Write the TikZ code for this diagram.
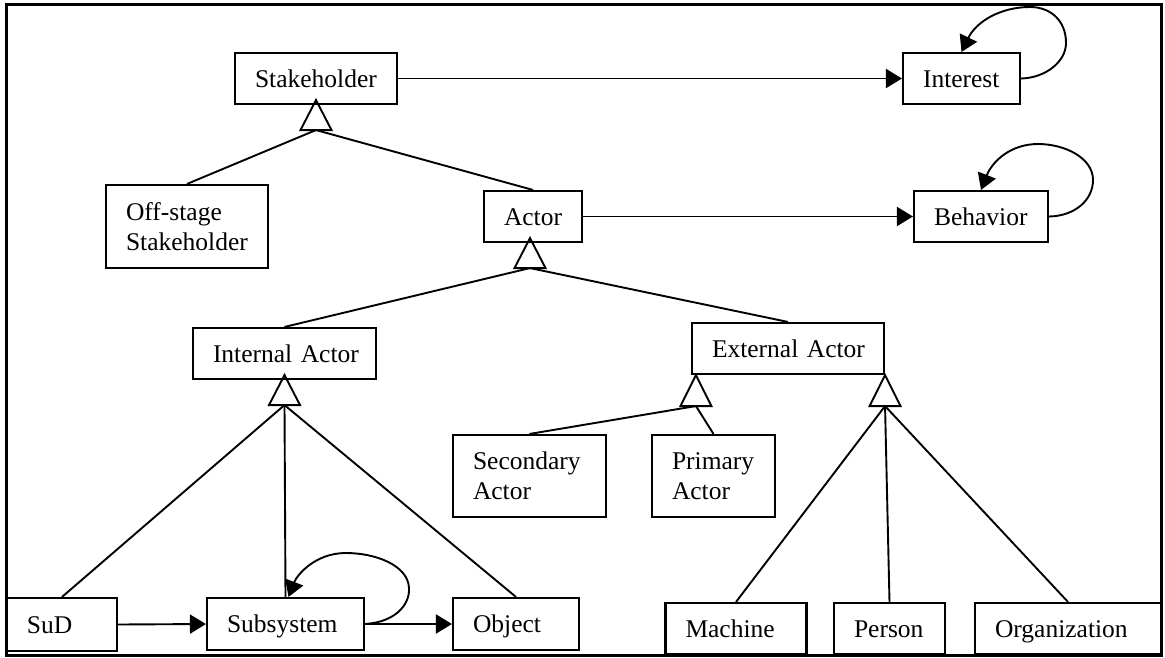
\documentclass[tikz,border=0pt]{standalone}
\usepackage{fontspec}
\setmainfont{Liberation Serif}
\usetikzlibrary{arrows.meta,calc}
\begin{document}
\begin{tikzpicture}[x=1pt,y=-1pt,
  boxbase/.style={draw, line width=2.1pt, align=left, inner xsep=20pt, inner ysep=0pt,
    font=\fontsize{25.5pt}{30pt}\selectfont},
  box/.style={boxbase, text height=17.3pt, text depth=0pt},
  conn/.style={line width=1.9pt},
  arr/.style={conn, -{Triangle[length=16pt,width=19pt]}},
  gen/.style={line width=1.9pt, line join=miter}]
\useasboundingbox (0,0) rectangle (1165,657);
\draw[line width=3pt] (6,4) rectangle (1161,655);

% nodes
\node[box, text width=122pt, minimum height=51pt] (stake) at (316,78.5) {\mbox{Stakeholder}};
\node[box, text width=77pt, minimum height=51pt] (interest) at (961.5,78.5) {\mbox{Interest}};
\node[boxbase, text width=122pt, minimum height=83pt] (offstage) at (187,226.5) {\mbox{Off-stage}\\\mbox{Stakeholder}};
\node[box, text width=58pt, minimum height=51pt] (actor) at (533,216.5) {\mbox{Actor}};
\node[box, text width=94pt, minimum height=51pt] (behavior) at (981,216.5) {\mbox{Behavior}};
\node[box, text width=143pt, minimum height=51pt] (internal) at (284.5,353.5) {\mbox{Internal Actor}};
\node[box, text width=152pt, minimum height=51pt] (external) at (788,348.5) {\mbox{External Actor}};
\node[boxbase, text width=113pt, minimum height=82pt] (secondary) at (529.5,476) {\mbox{Secondary}\\\mbox{Actor}};
\node[boxbase, text width=83pt, minimum height=82pt] (primary) at (713.5,476) {\mbox{Primary}\\\mbox{Actor}};
\node[box, text width=70pt, minimum height=53pt] (sud) at (62,624.5) {\mbox{SuD}};
\node[box, text width=117pt, minimum height=52pt] (subsystem) at (285.5,624) {\mbox{Subsystem}};
\node[box, text width=86pt, minimum height=52pt] (object) at (516,624) {\mbox{Object}};
\node[box, text width=101pt, minimum height=51pt] (machine) at (736,628.5) {\mbox{Machine}};
\node[box, text width=71pt, minimum height=51pt] (person) at (889.5,628.5) {\mbox{Person}};
\node[box, text width=146pt, minimum height=51pt] (organization) at (1068,628.5) {\mbox{Organization}};

% generalization triangles
\coordinate (g1) at ($(stake.south)+(0,25)$);
\coordinate (g2) at ($(actor.south)+(-3,25)$);
\coordinate (g3) at ($(internal.south)+(0,25)$);
\coordinate (g4) at ($(external.south west)+(5,31)$);
\coordinate (g5) at ($(external.south east)+(0,31)$);
\draw[gen] ($(g1)+(-15.5,0)$) -- ($(g1)+(0,-30)$) -- ($(g1)+(15.5,0)$) -- cycle;
\draw[gen] ($(g2)+(-15.5,0)$) -- ($(g2)+(0,-30)$) -- ($(g2)+(15.5,0)$) -- cycle;
\draw[gen] ($(g3)+(-15.5,0)$) -- ($(g3)+(0,-30)$) -- ($(g3)+(15.5,0)$) -- cycle;
\draw[gen] ($(g4)+(-15.5,0)$) -- ($(g4)+(0,-31)$) -- ($(g4)+(15.5,0)$) -- cycle;
\draw[gen] ($(g5)+(-15.5,0)$) -- ($(g5)+(0,-31)$) -- ($(g5)+(15.5,0)$) -- cycle;

% generalization lines
\draw[conn] (g1) -- (offstage.north);
\draw[conn] (g1) -- (actor.north);
\draw[conn] (g2) -- (internal.north);
\draw[conn] (g2) -- (external.north);
\draw[conn] (g3) -- (sud.north);
\draw[conn] (g3) -- (subsystem.north);
\draw[conn] (g3) -- (object.north);
\draw[conn] (g4) -- (secondary.north);
\draw[conn] (g4) -- (primary.north);
\draw[conn] (g5) -- (machine.north);
\draw[conn] (g5) -- (person.north);
\draw[conn] (g5) -- (organization.north);

% associations
\draw[arr] (stake.east) -- (interest.west);
\draw[arr] (actor.east) -- (behavior.west);
\draw[arr] (sud.east) -- (subsystem.west);
\draw[arr] (subsystem.east) -- (object.west);

% self loops
\draw[arr] (interest.east) .. controls (1045,78) and (1066,62) .. (1066,43)
  .. controls (1066,20) and (1050,7) .. (1030,7)
  .. controls (1000,7) and (976,22) .. (interest.north);
\draw[arr] (behavior.east) .. controls (1075,216) and (1093,200) .. (1093,180)
  .. controls (1093,158) and (1065,144) .. (1038,144)
  .. controls (1010,144) and (992,162) .. (behavior.north);
\draw[arr] (subsystem.east) .. controls (395,622) and (410,605) .. (409,588)
  .. controls (408,565) and (375,553) .. (346,553)
  .. controls (315,553) and (297,575) .. ($(subsystem.north)+(3,0)$);
\end{tikzpicture}
\end{document}
